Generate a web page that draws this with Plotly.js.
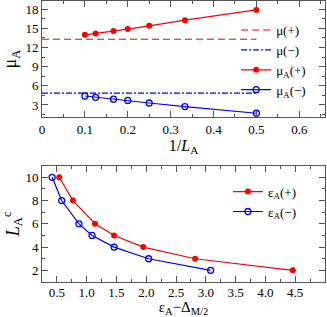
<!DOCTYPE html>
<html>
<head>
<meta charset="utf-8">
<script src="https://cdn.plot.ly/plotly-3.0.1.min.js"></script>
<style>html,body{margin:0;padding:0;background:#fff;}#chart{width:327px;height:317px;}</style>
</head>
<body>
<div id="chart"></div>
<script>
// Top panel data
var invL = [0.1, 0.125, 0.1667, 0.2, 0.25, 0.3333, 0.5];
var muAPlus = [14.0, 14.2, 14.6, 14.9, 15.4, 16.3, 17.9];
var muAMinus = [4.4, 4.2, 3.9, 3.7, 3.3, 2.75, 1.7];
var refX = [0, 0.5];
var muPlus = [13.3, 13.3];
var muMinus = [4.85, 4.85];

// Bottom panel data
var Lc = [10, 8, 6, 5, 4, 3, 2];
var epsPlus = [0.54, 0.77, 1.14, 1.46, 1.95, 2.82, 4.46];
var epsMinus = [0.42, 0.58, 0.87, 1.09, 1.46, 2.04, 3.08];

var RED = '#ff0000', BLUE = '#0000ff';
var FONT = 'Liberation Serif, Times New Roman, serif';

var traces = [
  {x: refX, y: muPlus, mode: 'lines', name: 'μ(+)', line: {color: RED, width: 1.2, dash: '7px,4px'}, xaxis: 'x', yaxis: 'y', legend: 'legend'},
  {x: refX, y: muMinus, mode: 'lines', name: 'μ(−)', line: {color: BLUE, width: 1.2, dash: '6px,2px,2px,2px'}, xaxis: 'x', yaxis: 'y', legend: 'legend'},
  {x: invL, y: muAPlus, mode: 'lines+markers', name: 'μ<sub>A</sub>(+)', line: {color: RED, width: 1.2}, marker: {color: RED, size: 6, symbol: 'circle'}, xaxis: 'x', yaxis: 'y', legend: 'legend'},
  {x: invL, y: muAMinus, mode: 'lines+markers', name: 'μ<sub>A</sub>(−)', line: {color: BLUE, width: 1.2}, marker: {color: BLUE, size: 6, symbol: 'circle-open', line: {width: 1.3}}, xaxis: 'x', yaxis: 'y', legend: 'legend'},
  {x: epsPlus, y: Lc, mode: 'lines+markers', name: 'ε<sub>A</sub>(+)', line: {color: RED, width: 1.2}, marker: {color: RED, size: 6, symbol: 'circle'}, xaxis: 'x2', yaxis: 'y2', legend: 'legend2'},
  {x: epsMinus, y: Lc, mode: 'lines+markers', name: 'ε<sub>A</sub>(−)', line: {color: BLUE, width: 1.2}, marker: {color: BLUE, size: 6, symbol: 'circle-open', line: {width: 1.3}}, xaxis: 'x2', yaxis: 'y2', legend: 'legend2'}
];

function ax(extra) {
  var base = {
    showline: true, linecolor: '#555', linewidth: 1, mirror: 'allticks',
    ticks: 'inside', ticklen: 6, tickcolor: '#555', tickwidth: 1,
    showgrid: false, zeroline: false,
    tickfont: {family: FONT, size: 13, color: '#000'}
  };
  for (var k in extra) base[k] = extra[k];
  return base;
}

var layout = {
  width: 327, height: 317,
  margin: {l: 42, r: 2, t: 1, b: 35},
  paper_bgcolor: '#fff', plot_bgcolor: '#fff',
  font: {family: FONT, size: 13, color: '#000'},
  xaxis: ax({range: [0, 0.66], dtick: 0.1, tick0: 0, anchor: 'y',
    minor: {dtick: 0.05, ticks: 'inside', ticklen: 3, tickcolor: '#555'},
    title: {text: '1/<i>L</i><sub>A</sub>', font: {family: FONT, size: 16, color: '#000'}, standoff: 0}}),
  yaxis: ax({range: [1.1, 19.3], dtick: 3, tick0: 0, domain: [0.587, 1], anchor: 'x',
    minor: {dtick: 1.5, ticks: 'inside', ticklen: 3, tickcolor: '#555'},
    title: {text: 'μ<sub>A</sub>', font: {family: FONT, size: 18, color: '#000'}, standoff: 4}}),
  xaxis2: ax({range: [0.25, 5.0], dtick: 0.5, tick0: 0, tickformat: '.1f', anchor: 'y2', ticklabelstandoff: -2,
    minor: {dtick: 0.25, ticks: 'inside', ticklen: 3, tickcolor: '#555'},
    title: {text: 'ε<sub>A</sub>−Δ<sub>M/2</sub>', font: {family: FONT, size: 15, color: '#000'}, standoff: 4}}),
  yaxis2: ax({range: [1, 11], dtick: 2, tick0: 0, domain: [0, 0.414], anchor: 'x2',
    minor: {dtick: 1, ticks: 'inside', ticklen: 3, tickcolor: '#555'},
    title: {text: '<i>L</i><sub>A</sub><sup>c</sup>', font: {family: FONT, size: 18, color: '#000'}, standoff: 4}}),
  legend: {x: 0.686, y: 0.95, xanchor: 'left', yanchor: 'top', bgcolor: 'rgba(0,0,0,0)', borderwidth: 0,
    font: {family: FONT, size: 13, color: '#000'}, tracegroupgap: 0, itemwidth: 30},
  legend2: {x: 0.657, y: 0.375, xanchor: 'left', yanchor: 'top', bgcolor: 'rgba(0,0,0,0)', borderwidth: 0,
    font: {family: FONT, size: 13, color: '#000'}, tracegroupgap: 0, itemwidth: 30},
  showlegend: true
};

Plotly.newPlot('chart', traces, layout, {displayModeBar: false, staticPlot: true});
</script>
</body>
</html>
